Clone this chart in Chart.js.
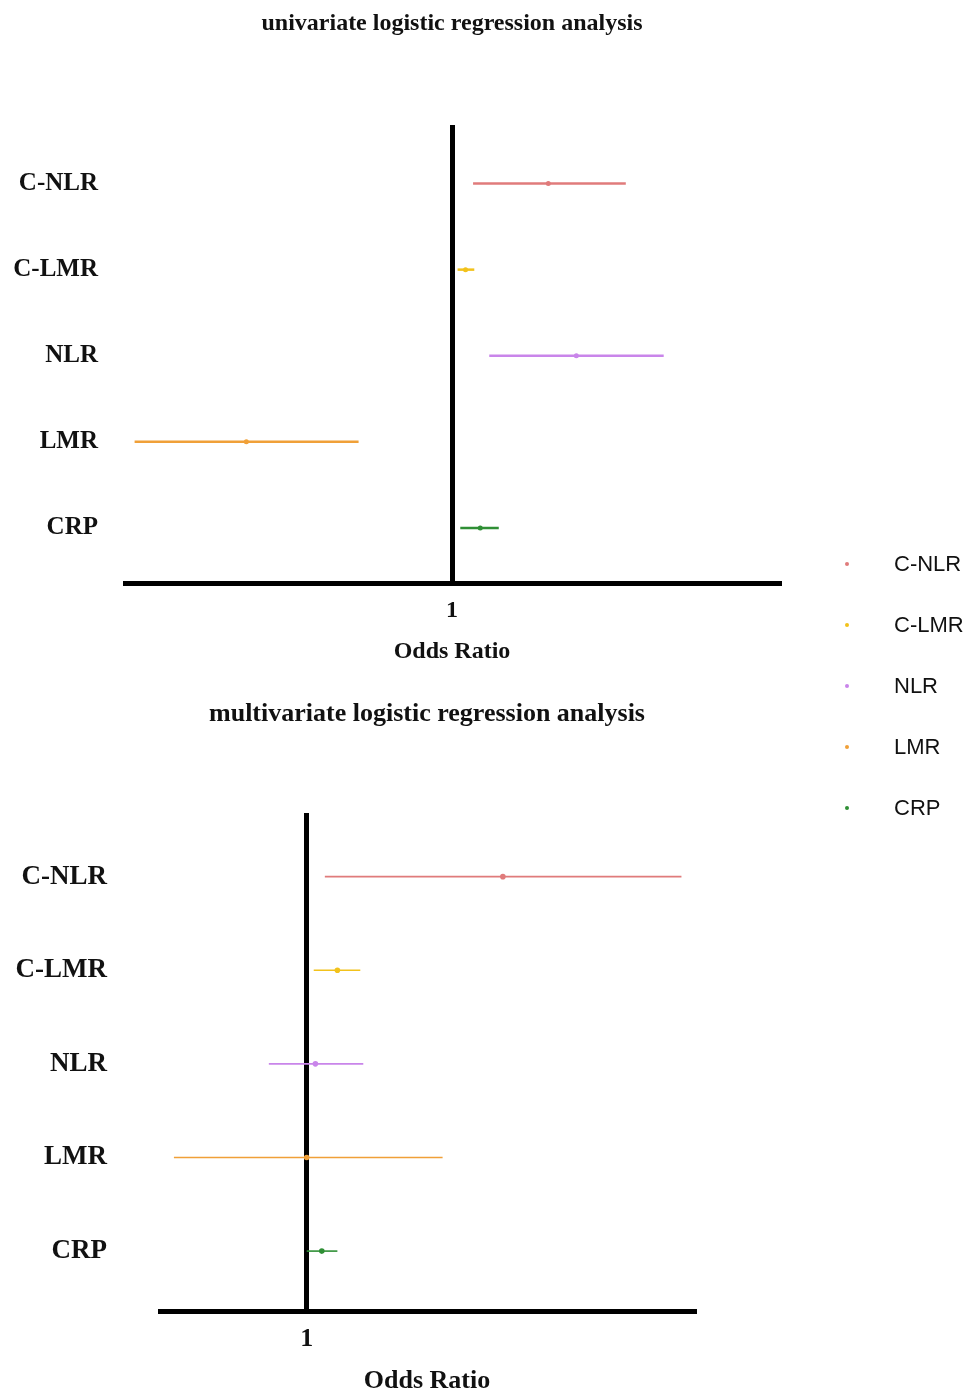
<!DOCTYPE html>
<html>
<head>
<meta charset="utf-8">
<script src="https://cdn.jsdelivr.net/npm/chart.js@4.4.1/dist/chart.umd.min.js"></script>
<style>
  body { margin: 0; background: #fff; width: 967px; height: 1391px; position: relative; overflow: hidden; }
  #uniChart { position: absolute; left: 0; top: 0; }
  #multiChart { position: absolute; left: 0; top: 680px; }
  #legend { position: absolute; left: 830px; top: 533px; font-family: 'Liberation Sans', Arial, sans-serif; font-size: 22px; color: #111; }
  .item { height: 61px; display: flex; align-items: center; }
  .dot { width: 4px; height: 4px; border-radius: 50%; margin-left: 15px; margin-right: 45px; }
</style>
</head>
<body>
<canvas id="uniChart" width="967" height="680"></canvas>
<canvas id="multiChart" width="967" height="720"></canvas>
<div id="legend"></div>
<script>
const variables = ['C-NLR', 'C-LMR', 'NLR', 'LMR', 'CRP']
const colors = ['#e07b7b', '#f2c21b', '#c985ea', '#f0a038', '#2f8f35']

// univariate odds ratios with 95% CI
const uniOR = [1.97, 1.10, 2.40, 0.235, 1.22]
const uniLower = [1.16, 1.04, 1.30, 0.107, 1.06]
const uniUpper = [3.40, 1.17, 4.44, 0.518, 1.39]

// multivariate odds ratios with 95% CI
const multiOR = [8.6, 1.40, 1.10, 1.00, 1.18]
const multiLower = [1.22, 1.08, 0.66, 0.233, 1.00]
const multiUpper = [61.0, 1.80, 1.86, 4.44, 1.40]

const SERIF = "'Liberation Serif', 'Times New Roman', serif"

function forestChart(canvas, title, or, lower, upper, cfg) {
    const datasets = [{
        data: or.map((v, i) => ({ x: v, y: 5 - i })),
        pointRadius: cfg.dot,
        pointBackgroundColor: colors,
        pointBorderWidth: 0,
        showLine: false,
        order: 0
    }]
    variables.forEach((v, i) => {
        datasets.push({
            data: [{ x: lower[i], y: 5 - i }, { x: upper[i], y: 5 - i }],
            borderColor: colors[i],
            borderWidth: cfg.line,
            pointRadius: 0,
            showLine: true,
            order: 1
        })
    })

    return new Chart(canvas, {
        type: 'scatter',
        data: { datasets: datasets },
        options: {
            responsive: false,
            animation: false,
            layout: { padding: { left: 0, right: cfg.right, top: 0, bottom: 0 } },
            plugins: {
                legend: { display: false },
                tooltip: { enabled: false },
                title: {
                    display: true,
                    text: title,
                    fullSize: false,
                    color: '#111',
                    font: { family: SERIF, size: cfg.font, weight: 'bold' },
                    padding: cfg.titlePad
                }
            },
            scales: {
                x: {
                    type: 'logarithmic',
                    min: cfg.min,
                    max: cfg.max,
                    afterBuildTicks: (scale) => { scale.ticks = [{ value: 1 }] },
                    afterFit: (scale) => { scale.height = cfg.xHeight },
                    ticks: {
                        callback: () => '1',
                        color: '#111',
                        padding: cfg.tickPad,
                        font: { family: SERIF, size: cfg.font, weight: 'bold' }
                    },
                    grid: { color: '#000', lineWidth: 5, drawTicks: false },
                    border: { display: true, color: '#000', width: 5 },
                    title: {
                        display: true,
                        text: 'Odds Ratio',
                        color: '#111',
                        font: { family: SERIF, size: cfg.font, weight: 'bold' },
                        padding: { top: 0, bottom: cfg.axisTitlePad }
                    }
                },
                y: {
                    type: 'linear',
                    min: 0.36,
                    max: 5.68,
                    afterBuildTicks: (scale) => { scale.ticks = variables.map((v, i) => ({ value: 5 - i })) },
                    afterFit: (scale) => { scale.width = cfg.yWidth },
                    ticks: {
                        callback: (value) => variables[5 - Math.round(value)],
                        color: '#111',
                        padding: cfg.yPad,
                        font: { family: SERIF, size: cfg.yFont, weight: 'bold' }
                    },
                    grid: { display: false, drawTicks: false },
                    border: { display: false }
                }
            }
        }
    })
}

forestChart(document.getElementById('uniChart'), 'univariate logistic regression analysis',
    uniOR, uniLower, uniUpper, {
        min: 0.1, max: 10, right: 188, yWidth: 125, yPad: 27, xHeight: 97,
        font: 24, yFont: 25, tickPad: 13.6, axisTitlePad: 14,
        titlePad: { top: 9.6, bottom: 86.6 }, line: 2.5, dot: 2.5
    })

forestChart(document.getElementById('multiChart'), 'multivariate logistic regression analysis',
    multiOR, multiLower, multiUpper, {
        min: 0.2, max: 70, right: 273, yWidth: 160, yPad: 53, xHeight: 89,
        font: 26, yFont: 27, tickPad: 12.4, axisTitlePad: 3.4,
        titlePad: { top: 18.4, bottom: 83.4 }, line: 1.6, dot: 2.8
    })

const legend = document.getElementById('legend')
variables.forEach((v, i) => {
    const item = document.createElement('div')
    item.className = 'item'
    item.innerHTML = '<span class="dot" style="background:' + colors[i] + '"></span><span>' + v + '</span>'
    legend.appendChild(item)
})
</script>
</body>
</html>
